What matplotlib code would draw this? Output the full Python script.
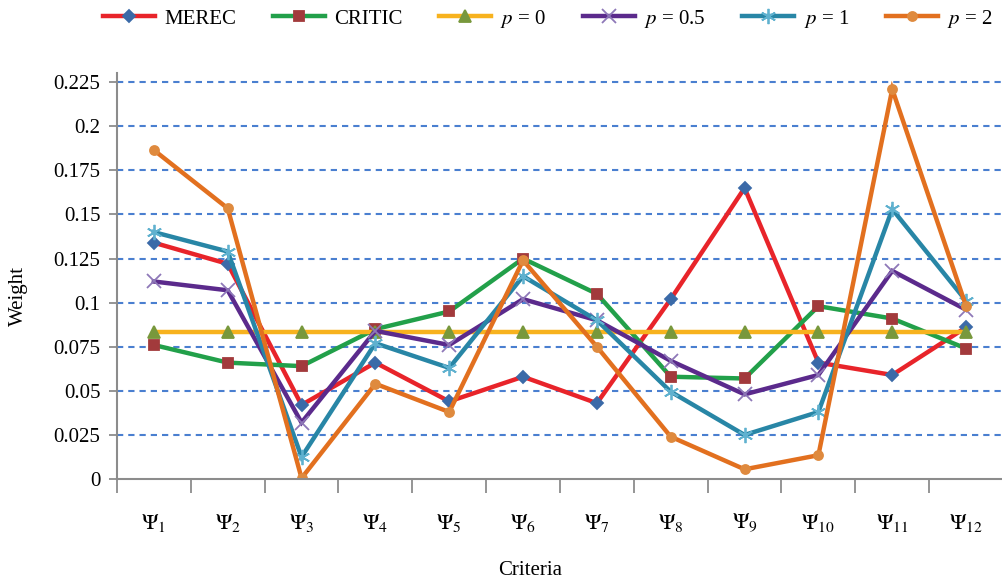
import numpy as np
import matplotlib
matplotlib.use("Agg")
import matplotlib.pyplot as plt

plt.rcParams['font.family'] = ['Liberation Serif', 'DejaVu Serif']
plt.rcParams['mathtext.fontset'] = 'stix'

criteria = [r'$\Psi_{%d}$' % i for i in range(1, 13)]

merec  = [0.134, 0.122, 0.042, 0.066, 0.044, 0.058, 0.043, 0.102, 0.165, 0.066, 0.059, 0.086]
critic = [0.076, 0.066, 0.064, 0.085, 0.095, 0.125, 0.105, 0.058, 0.057, 0.098, 0.091, 0.074]
p_0    = [0.0833] * 12
p_05   = [0.112, 0.107, 0.032, 0.084, 0.076, 0.102, 0.090, 0.067, 0.048, 0.059, 0.118, 0.096]
p_1    = [0.140, 0.129, 0.0125, 0.077, 0.063, 0.115, 0.090, 0.0495, 0.025, 0.038, 0.153, 0.101]
p_2    = [0.1865, 0.1535, 0.0005, 0.054, 0.038, 0.124, 0.075, 0.024, 0.0055, 0.0135, 0.221, 0.098]

yticks = [0, 0.025, 0.05, 0.075, 0.1, 0.125, 0.15, 0.175, 0.2, 0.225]

fig = plt.figure(figsize=(10.03, 5.8), dpi=100)
ax = fig.add_axes([0.1166, 0.1741, 0.8834, 0.7000])

x = np.arange(len(criteria))

# series styles: line colour, marker, marker colour, marker size
styles = [
    ("MEREC",        merec,  '#e8242a', 'D', '#3b6aa8', 6.5),
    ("CRITIC",       critic, '#22a04a', 's', '#a23a3c', 6.5),
    (r"$p$ = 0",     p_0,    '#f7b21e', '^', '#78983c', 8.5),
    (r"$p$ = 0.5",   p_05,   '#5b2a8c', 'x', '#8e78b8', 10),
    (r"$p$ = 1",     p_1,    '#2886a6', (6, 2, 0), '#5fb1cf', 11),
    (r"$p$ = 2",     p_2,    '#e2701f', 'o', '#df8a3e', 6.5),
]

for label, vals, lc, mk, mc, ms in styles:
    ax.plot(x, vals, color=lc, lw=3.2, marker=mk, markersize=ms,
            markerfacecolor=mc, markeredgecolor=mc, markeredgewidth=1.3,
            label=label, solid_joinstyle='miter')

ax.set_xlim(-0.5, 11.5)
ax.set_ylim(0, 0.2302)

# gridlines
for yv in yticks[1:]:
    ax.axhline(yv, color='#4a7fd0', lw=1.5, ls=(0, (3, 2.4)), zorder=0)

ax.set_yticks(yticks)
ax.set_yticklabels(['%g' % v for v in yticks])
ax.tick_params(axis='y', length=6, width=1.3, color='#8c8c8c', pad=6, labelsize=15)

ax.set_xticks(np.arange(-0.5, 12, 1))
ax.set_xticklabels([])
ax.tick_params(axis='x', which='major', length=10, width=1.3, color='#8c8c8c')
ax.set_xticks(x, minor=True)
ax.set_xticklabels(criteria, minor=True)
ax.tick_params(axis='x', which='minor', length=0, pad=24, labelsize=16)

for s in ['top', 'right']:
    ax.spines[s].set_visible(False)
for s in ['left', 'bottom']:
    ax.spines[s].set_color('#8c8c8c')
    ax.spines[s].set_linewidth(1.5)

fig.text(0.529, 0.017, "Criteria", ha='center', va='center', fontsize=15)
fig.text(0.018, 0.49, "Weight", ha='center', va='center', rotation=90, fontsize=15)

fig.legend(loc='center', bbox_to_anchor=(0.546, 0.968), ncol=6, frameon=False,
           fontsize=15, handlelength=2.5, handletextpad=0.45, columnspacing=1.75)

fig.savefig("out.png", dpi=100)
